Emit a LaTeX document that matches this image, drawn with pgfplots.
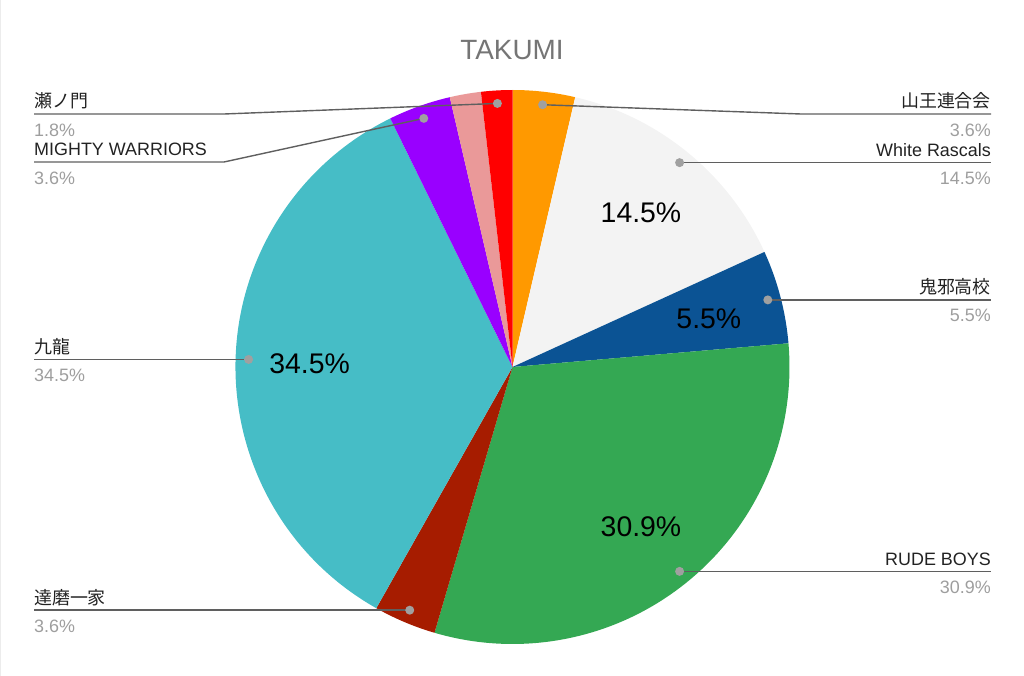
\documentclass[border=0pt]{standalone}
\usepackage{fontspec}
\setmainfont{Liberation Sans}
\newfontfamily\cjk{Noto Sans CJK JP}
\usepackage{pgfplots}
\usepackage{pgfplotstable}
\pgfplotsset{compat=1.18}

\definecolor{sOrange}{HTML}{FF9900}
\definecolor{sLight}{HTML}{F3F3F3}
\definecolor{sNavy}{HTML}{0B5394}
\definecolor{sGreen}{HTML}{34A853}
\definecolor{sBrick}{HTML}{A61C00}
\definecolor{sTeal}{HTML}{46BDC6}
\definecolor{sViolet}{HTML}{9900FF}
\definecolor{sPink}{HTML}{EA9999}
\definecolor{sRed}{HTML}{FF0000}
\definecolor{txt}{HTML}{222222}
\definecolor{pctgrey}{HTML}{9E9E9E}
\definecolor{leader}{HTML}{5F5F5F}
\definecolor{dotgrey}{HTML}{A0A0A0}
\definecolor{titlegrey}{HTML}{757575}

% members per gang, clockwise from 12 o'clock
\pgfplotstableread{
count colour
2  sOrange
8  sLight
3  sNavy
17 sGreen
2  sBrick
19 sTeal
2  sViolet
1  sPink
1  sRed
}\slices

\def\cx{512.5}
\def\cy{309}
\def\R{277}

\newcommand\share[1]{\pgfmathprintnumber[fixed,precision=1,fixed zerofill,assume math mode=true]{\csname sP#1\endcsname}\%}

\tikzset{
  lab/.style={font=\fontsize{18}{21}\selectfont, text=txt, inner sep=0pt},
  pctlab/.style={font=\fontsize{18}{21}\selectfont, text=pctgrey, inner sep=0pt},
  inside/.style={font=\fontsize{28.5}{33}\selectfont, text=black, inner sep=0pt},
  leaderline/.style={draw=leader, line width=1.4bp},
}

\begin{document}
\begin{tikzpicture}
\useasboundingbox (0,0) rectangle (1024bp,676bp);

% angles of each slice
\def\total{0}
\pgfplotsforeachungrouped \i in {0,...,8}{%
  \pgfplotstablegetelem{\i}{count}\of\slices
  \pgfmathsetmacro\total{\total+\pgfplotsretval}}
\def\acc{90}
\pgfplotsforeachungrouped \i in {0,...,8}{%
  \pgfplotstablegetelem{\i}{count}\of\slices
  \let\cnt\pgfplotsretval
  \pgfmathsetmacro\sweep{360*\cnt/\total}
  \pgfmathsetmacro\pp{100*\cnt/\total}
  \expandafter\xdef\csname sA\i\endcsname{\acc}
  \pgfmathsetmacro\acc{\acc-\sweep}
  \expandafter\xdef\csname sB\i\endcsname{\acc}
  \pgfmathsetmacro\midang{\acc+\sweep/2}
  \expandafter\xdef\csname sM\i\endcsname{\midang}
  \expandafter\xdef\csname sP\i\endcsname{\pp}
  \pgfplotstablegetelem{\i}{colour}\of\slices
  \expandafter\xdef\csname sC\i\endcsname{\pgfplotsretval}
}

\begin{axis}[
    at={(0,0)}, anchor=south west,
    scale only axis,
    x=1bp, y=1bp,
    xmin=0, xmax=1024,
    ymin=0, ymax=676,
    hide axis,
    clip=false,
]

\draw[gray!15, line width=1.5bp] (axis cs:0.75,0) -- (axis cs:0.75,676);

\pgfplotsinvokeforeach{0,...,8}{%
  \edef\tmp{\noexpand\fill[\csname sC#1\endcsname] (axis cs:\cx,\cy) -- +(\csname sA#1\endcsname:\R bp)
    arc[start angle=\csname sA#1\endcsname, end angle=\csname sB#1\endcsname, radius=\R bp] -- cycle;}\tmp
  \edef\tmp{\noexpand\path (axis cs:\cx,\cy) ++(\csname sM#1\endcsname:264bp) coordinate (d#1);}\tmp
}

\coordinate (R) at (axis cs:991,0);
\coordinate (L) at (axis cs:34,0);

% leader lines
\draw[leaderline] (d0) -- (axis cs:801,562) -- (axis cs:991,562) coordinate (e0);
\draw[leaderline] (d1) -- (d1 -| R) coordinate (e1);
\draw[leaderline] (d2) -- (d2 -| R) coordinate (e2);
\draw[leaderline] (d3) -- (d3 -| R) coordinate (e3);
\draw[leaderline] (d4) -- (d4 -| L) coordinate (e4);
\draw[leaderline] (d5) -- (d5 -| L) coordinate (e5);
\draw[leaderline] (d6) -- (axis cs:224,514) -- (axis cs:34,514) coordinate (e6);
\draw[leaderline] (d8) -- (axis cs:224,562) -- (axis cs:34,562) coordinate (e8);

\pgfplotsinvokeforeach{0,1,2,3,4,5,6,8}{%
  \fill[dotgrey] (d#1) circle[radius=4.5bp];
}

% value labels inside the larger slices
\pgfplotsinvokeforeach{0,...,8}{%
  \ifdim\csname sP#1\endcsname pt>5pt
    \edef\tmp{\noexpand\node[inside] at ([shift={(\csname sM#1\endcsname:203bp)},yshift=-3bp]axis cs:\cx,\cy) {\noexpand\share{#1}};}\tmp
  \fi
}

% callout texts
\node[lab, anchor=base east] at ([yshift=6bp]e0) {\cjk 山王連合会};
\node[pctlab, anchor=base east] at ([yshift=-22bp]e0) {\share{0}};
\node[lab, anchor=base east] at ([yshift=6bp]e1) {White Rascals};
\node[pctlab, anchor=base east] at ([yshift=-22bp]e1) {\share{1}};
\node[lab, anchor=base east] at ([yshift=6bp]e2) {\cjk 鬼邪高校};
\node[pctlab, anchor=base east] at ([yshift=-22bp]e2) {\share{2}};
\node[lab, anchor=base east] at ([yshift=6bp]e3) {RUDE BOYS};
\node[pctlab, anchor=base east] at ([yshift=-22bp]e3) {\share{3}};
\node[lab, anchor=base west] at ([yshift=6bp]e4) {\cjk 達磨一家};
\node[pctlab, anchor=base west] at ([yshift=-22bp]e4) {\share{4}};
\node[lab, anchor=base west] at ([yshift=6bp]e5) {\cjk 九龍};
\node[pctlab, anchor=base west] at ([yshift=-22bp]e5) {\share{5}};
\node[lab, anchor=base west] at ([yshift=6bp]e6) {MIGHTY WARRIORS};
\node[pctlab, anchor=base west] at ([yshift=-22bp]e6) {\share{6}};
\node[lab, anchor=base west] at ([yshift=6bp]e8) {\cjk 瀬ノ門};
\node[pctlab, anchor=base west] at ([yshift=-22bp]e8) {\share{8}};

\node[font=\fontsize{28}{33}\selectfont, text=titlegrey, inner sep=0pt] at (axis cs:512,626) {TAKUMI};

\end{axis}
\end{tikzpicture}
\end{document}
